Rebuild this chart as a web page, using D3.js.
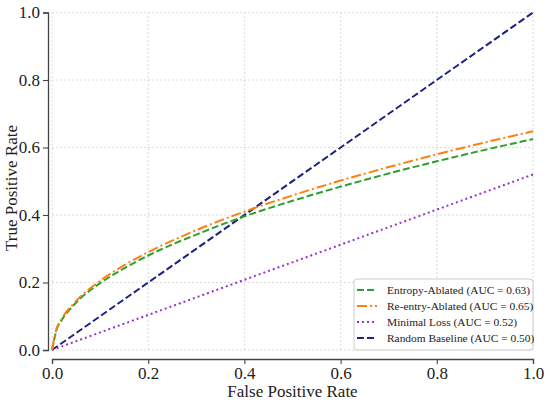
<!DOCTYPE html>
<html>
<head>
<meta charset="utf-8">
<script src="https://cdn.jsdelivr.net/npm/d3@7"></script>
<style>
  body { margin: 0; background: #fff; }
  text { font-family: "Liberation Serif", "DejaVu Serif", serif; fill: #222; }
</style>
</head>
<body>
<div id="drawing"></div>
<script>
// values
const fprPoints = [0, 0.01, 0.02, 0.05, 0.1, 0.15, 0.2, 0.3, 0.4, 0.5, 0.6, 0.7, 0.8, 0.9, 1.0];
const entropyTpr = [0, 0.062, 0.088, 0.14, 0.198, 0.242, 0.28, 0.342, 0.396, 0.442, 0.484, 0.523, 0.559, 0.593, 0.625];
const reentryTpr = [0, 0.065, 0.092, 0.145, 0.205, 0.251, 0.29, 0.355, 0.41, 0.458, 0.502, 0.542, 0.58, 0.615, 0.648];
const minimalFpr = [0, 1];
const minimalTpr = [0, 0.52];
const randomFpr = [0, 1];
const randomTpr = [0, 1];
const seriesNames = ["Entropy-Ablated (AUC = 0.63)", "Re-entry-Ablated (AUC = 0.65)",
  "Minimal Loss (AUC = 0.52)", "Random Baseline (AUC = 0.50)"];
const tickValues = [0, 0.2, 0.4, 0.6, 0.8, 1.0];

const width = 550;
const height = 403;
const margin = {top: 12.5, right: 17, bottom: 53, left: 52};

const svg = d3.select("#drawing").append("svg")
  .attr("width", width)
  .attr("height", height);

const xScale = d3.scaleLinear().domain([0, 1]).range([margin.left, width - margin.right]);
const yScale = d3.scaleLinear().domain([0, 1]).range([height - margin.bottom, margin.top]);

// grid
const grid = svg.append("g").attr("class", "grid");
grid.selectAll(".gx").data(tickValues).join("line")
  .attr("x1", d => xScale(d)).attr("x2", d => xScale(d))
  .attr("y1", yScale(0)).attr("y2", yScale(1));
grid.selectAll(".gy").data(tickValues).join("line")
  .attr("class", "gy")
  .attr("x1", xScale(0)).attr("x2", xScale(1))
  .attr("y1", d => yScale(d)).attr("y2", d => yScale(d));
grid.selectAll("line")
  .style("stroke", "#d0d0d0")
  .style("stroke-width", 0.8)
  .style("stroke-dasharray", "2,2");

// axes, offset from the data area like a despined plot
const xAxis = svg.append("g")
  .attr("transform", `translate(0, ${yScale(0) + 9})`)
  .call(d3.axisBottom(xScale).tickValues(tickValues).tickFormat(d3.format(".1f")).tickSize(5).tickPadding(3));
const yAxis = svg.append("g")
  .attr("transform", `translate(${xScale(0) - 4}, 0)`)
  .call(d3.axisLeft(yScale).tickValues(tickValues).tickFormat(d3.format(".1f")).tickSize(5).tickPadding(3));

[xAxis, yAxis].forEach(ax => {
  ax.select(".domain").style("stroke", "#444").style("stroke-width", 1.3);
  ax.selectAll(".tick line").style("stroke", "#444").style("stroke-width", 1.1);
  ax.selectAll(".tick text")
    .style("font-family", '"Liberation Serif", serif')
    .style("font-size", "17px")
    .style("fill", "#222");
});

svg.append("text")
  .attr("x", (xScale(0) + xScale(1)) / 2)
  .attr("y", 397)
  .attr("text-anchor", "middle")
  .style("font-size", "17px")
  .text("False Positive Rate");

svg.append("text")
  .attr("transform", `translate(17, 188) rotate(-90)`)
  .attr("text-anchor", "middle")
  .style("font-size", "17px")
  .text("True Positive Rate");

// curves
const series = [
  {name: seriesNames[0], xs: fprPoints, ys: entropyTpr, color: "#2ca02c", dash: "7,3"},
  {name: seriesNames[1], xs: fprPoints, ys: reentryTpr, color: "#ff7f0e", dash: "10,3,2,3"},
  {name: seriesNames[2], xs: minimalFpr, ys: minimalTpr, color: "#9932cc", dash: "2,3"},
  {name: seriesNames[3], xs: randomFpr, ys: randomTpr, color: "#1a237e", dash: "7,3"}
];

const lineGenerator = d3.line()
  .x(d => xScale(d[0]))
  .y(d => yScale(d[1]))
  .curve(d3.curveMonotoneX);

const curves = svg.append("g");
[series[3], series[2], series[0], series[1]].forEach(s => {
  curves.append("path")
    .attr("d", lineGenerator(s.xs.map((x, i) => [x, s.ys[i]])))
    .style("fill", "none")
    .style("stroke", s.color)
    .style("stroke-width", 2)
    .style("stroke-dasharray", s.dash);
});

// legend
const legend = svg.append("g").attr("transform", `translate(${xScale(1) - 179}, ${yScale(0) - 71})`);
legend.append("rect")
  .attr("width", 179).attr("height", 71)
  .attr("rx", 3)
  .style("fill", "rgba(255,255,255,0.85)")
  .style("stroke", "#cccccc")
  .style("stroke-width", 1);

series.forEach((s, i) => {
  const row = legend.append("g").attr("transform", `translate(0, ${11 + i * 16})`);
  row.append("line")
    .attr("x1", 3).attr("x2", 23)
    .style("stroke", s.color)
    .style("stroke-width", 2)
    .style("stroke-dasharray", s.dash);
  row.append("text")
    .attr("x", 33)
    .attr("dy", "0.35em")
    .style("font-size", "11.4px")
    .text(s.name);
});
</script>
</body>
</html>
